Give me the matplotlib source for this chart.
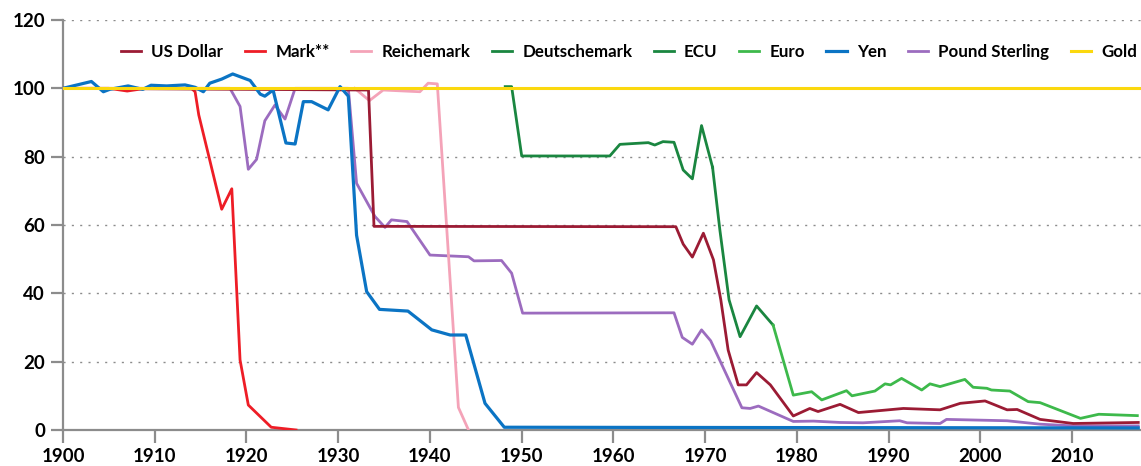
import matplotlib.pyplot as plt

# index values (1900 = 100)
usd_years = [1900, 1933.3, 1933.9, 1966.8, 1967.6, 1968.6, 1969.8, 1970.9, 1971.7, 1972.5,
             1973.6, 1974.5, 1975.6, 1977.1, 1979.6, 1981.4, 1982.3, 1984.7, 1986.7, 1991.6,
             1995.6, 1997.8, 2000.5, 2002.9, 2004.0, 2006.5, 2010.1, 2017.2]
usd_vals = [100, 99.5, 59.6, 59.5, 54.4, 50.6, 57.6, 49.8, 38.1, 23.4,
            13.2, 13.2, 16.8, 13.2, 4.1, 6.3, 5.4, 7.5, 5.1, 6.3,
            5.9, 7.8, 8.5, 5.9, 6.0, 3.1, 1.9, 2.2]

mark_years = [1900, 1905, 1907, 1909, 1914, 1914.4, 1914.8, 1917.3, 1918.4, 1919.3,
              1920.2, 1922.7, 1925.4]
mark_vals = [100, 100, 99.2, 100, 100, 99.0, 92.2, 64.6, 70.6, 20.5,
             7.3, 0.8, 0]

reich_years = [1931.8, 1933.4, 1934.9, 1938.9, 1939.8, 1940.8, 1943.1, 1944.2]
reich_vals = [100, 96.4, 99.5, 99.0, 101.5, 101.3, 6.6, 0]

dm_years = [1948.2, 1948.9, 1950.0, 1959.6, 1960.7, 1963.8, 1964.5, 1965.4, 1966.6,
            1967.6, 1968.6, 1969.6, 1970.8]
dm_vals = [100.5, 100.5, 80.2, 80.2, 83.6, 84.1, 83.4, 84.4, 84.2,
           76.1, 73.5, 89.1, 76.9]

ecu_years = [1970.8, 1971.6, 1972.6, 1973.8, 1975.6, 1977.4]
ecu_vals = [76.9, 58.5, 38.1, 27.3, 36.3, 30.7]

euro_years = [1977.4, 1979.6, 1981.6, 1982.7, 1985.4, 1986.0, 1988.5, 1989.6, 1990.2,
              1991.4, 1993.6, 1994.5, 1995.6, 1998.3, 1999.2, 2000.7, 2001.2, 2003.2,
              2005.2, 2006.5, 2010.9, 2012.9, 2017.1]
euro_vals = [30.7, 10.2, 11.2, 8.8, 11.5, 10.0, 11.4, 13.5, 13.2,
             15.1, 11.7, 13.5, 12.7, 14.8, 12.5, 12.2, 11.7, 11.4,
             8.3, 8.0, 3.4, 4.6, 4.2]

yen_years = [1900, 1903.1, 1904.4, 1905.1, 1907.1, 1908.7, 1909.6, 1911.3, 1913.3, 1914.4,
             1915.3, 1916.0, 1917.3, 1918.5, 1920.4, 1921.5, 1922.0, 1922.9, 1924.3, 1925.3,
             1926.2, 1927.1, 1928.9, 1930.2, 1931.1, 1932.0, 1933.1, 1934.5, 1937.6, 1940.2,
             1942.2, 1943.9, 1946.0, 1948.1, 1980, 2017.2]
yen_vals = [100, 102.0, 99.0, 99.7, 100.7, 99.7, 100.9, 100.7, 101.0, 100.3,
            99.0, 101.5, 102.7, 104.2, 102.3, 98.3, 97.7, 99.5, 84.0, 83.7,
            96.1, 96.1, 93.7, 100.5, 97.7, 57.0, 40.5, 35.3, 34.8, 29.3,
            27.8, 27.8, 7.8, 0.8, 0.7, 0.6]

gbp_years = [1900, 1918.2, 1919.3, 1920.2, 1921.1, 1922.0, 1923.1, 1924.2, 1925.3, 1931.1,
             1932.0, 1934.0, 1935.1, 1935.8, 1937.5, 1940.0, 1944.2, 1944.8, 1947.8, 1948.9,
             1950.1, 1966.6, 1967.5, 1968.6, 1969.6, 1970.6, 1974.0, 1974.9, 1975.8, 1979.6,
             1981.8, 1984.7, 1987.2, 1991.2, 1992.0, 1995.6, 1996.3, 2002.9, 2006.5, 2010.1,
             2017.2]
gbp_vals = [100, 100, 94.7, 76.3, 79.2, 90.5, 95.1, 91.0, 100, 100,
            72.2, 62.5, 59.3, 61.5, 61.0, 51.2, 50.7, 49.5, 49.6, 45.9,
            34.2, 34.3, 27.1, 25.1, 29.3, 26.1, 6.5, 6.3, 7.0, 2.5,
            2.6, 2.2, 2.1, 2.7, 2.1, 1.9, 3.1, 2.7, 1.7, 1.2,
            1.2]

gold_years = [1900, 2017.5]
gold_vals = [100, 100]

plt.rcParams['font.family'] = ['Lato', 'DejaVu Sans']

fig = plt.figure(figsize=(11.41, 4.66), dpi=100)
ax = fig.add_axes([0.0552, 0.0773, 0.9448, 0.8798])

ax.plot(gbp_years, gbp_vals, color='#9C6CBF', lw=2.0, label='Pound Sterling', zorder=3)
ax.plot(reich_years, reich_vals, color='#F4A3B8', lw=2.0, label='Reichemark', zorder=3)
ax.plot(mark_years, mark_vals, color='#EE1D26', lw=2.0, label='Mark**', zorder=3)
ax.plot(usd_years, usd_vals, color='#9B1B34', lw=2.0, label='US Dollar', zorder=4)
ax.plot(dm_years, dm_vals, color='#1A8640', lw=2.0, label='Deutschemark', zorder=4)
ax.plot(ecu_years, ecu_vals, color='#1A8640', lw=2.0, label='ECU', zorder=4)
ax.plot(euro_years, euro_vals, color='#3DB94B', lw=2.0, label='Euro', zorder=4)
ax.plot(yen_years, yen_vals, color='#0B74C4', lw=2.3, label='Yen', zorder=5)
ax.plot(gold_years, gold_vals, color='#FBD80E', lw=2.2, label='Gold', zorder=6)

ax.set_xlim(1900, 2017.5)
ax.set_ylim(0, 120)
ax.set_xticks(range(1900, 2011, 10))
ax.set_yticks(range(0, 121, 20))

ax.yaxis.grid(True, color='#8c8c8c', lw=1.0, linestyle=(0, (1.5, 4.5)))
ax.set_axisbelow(True)
for s in ['top', 'right']:
    ax.spines[s].set_visible(False)
for s in ['left', 'bottom']:
    ax.spines[s].set_color('#8c8c8c')
    ax.spines[s].set_linewidth(1.6)
ax.tick_params(axis='both', length=9, width=1.6, color='#8c8c8c',
               labelsize=13.5, pad=4)
for lbl in ax.get_xticklabels() + ax.get_yticklabels():
    lbl.set_fontweight('bold')

handles, labels = ax.get_legend_handles_labels()
order = ['US Dollar', 'Mark**', 'Reichemark', 'Deutschemark', 'ECU', 'Euro', 'Yen',
         'Pound Sterling', 'Gold']
hmap = dict(zip(labels, handles))
ax.legend([hmap[k] for k in order], order, ncol=9, loc='center',
          bbox_to_anchor=(0.525, 0.922), frameon=False, handlelength=1.2,
          handletextpad=0.6, columnspacing=1.26, prop={'weight': 'bold', 'size': 12.2})

fig.savefig('out.png', dpi=100)
